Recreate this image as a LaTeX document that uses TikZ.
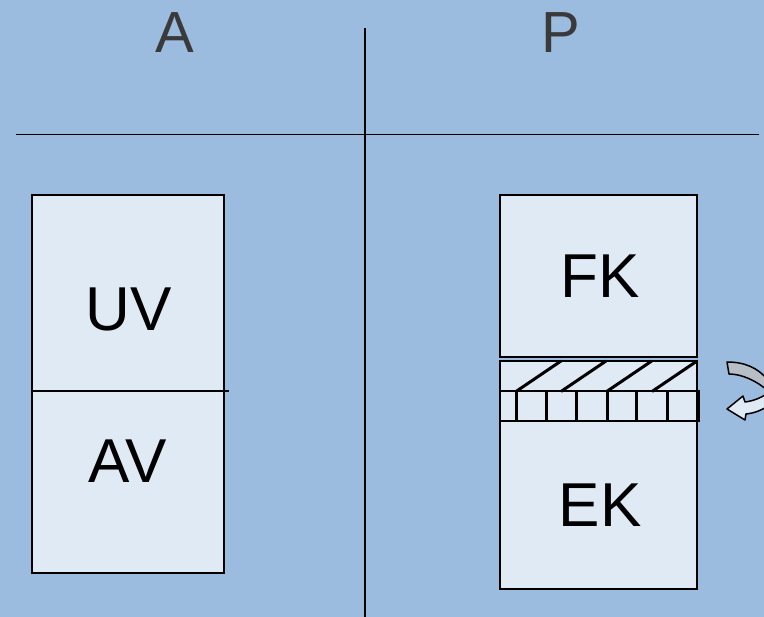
\documentclass[tikz,border=0pt]{standalone}
\usepackage{fontspec}
\setmainfont{Liberation Sans}
\definecolor{bg}{RGB}{155,187,223}
\definecolor{boxfill}{RGB}{224,234,245}
\definecolor{arrgray}{RGB}{184,190,198}
\definecolor{titlegray}{RGB}{58,58,58}
\tikzset{
  box/.style={draw=black,fill=boxfill,line width=2pt},
  rule/.style={draw=black,line width=1.8pt},
  tick/.style={draw=black,line width=3pt},
  lbl/.style={inner sep=0pt,font=\fontsize{62}{62}\selectfont,text=black},
  ttl/.style={inner sep=0pt,font=\fontsize{58}{58}\selectfont,text=titlegray},
}
\begin{document}
\begin{tikzpicture}[x=1pt,y=-1pt]
\useasboundingbox (0,0) rectangle (764,617);
\fill[bg] (0,0) rectangle (764,617);
% column titles
\node[ttl] (tA) at (175,32.5) {A};
\node[ttl] (tP) at (560.5,33) {P};
% rules
\coordinate (hl) at (16,134.5);
\coordinate (hr) at (759,134.5);
\coordinate (vt) at (365,28);
\coordinate (vb) at (365,617);
\draw[rule] (hl) -- (hr);
\draw[rule] (vt) -- (vb);
% left box
\draw[box] (32,195) rectangle (224,573);
\coordinate (dl) at (32,391);
\coordinate (dr) at (229,391);
\draw[rule] (dl) -- (dr);
\node[lbl] (uv) at (128.5,309) {UV};
\node[lbl] (av) at (127.5,461.5) {AV};
% right boxes
\draw[box] (500,195) rectangle (697,357);
\node[lbl] (fk) at (600,276.5) {FK};
\draw[box] (500,421.5) rectangle (697,589);
\node[lbl] (ek) at (600,505.5) {EK};
\draw[box] (500,361) rectangle (697,391.5);
\draw[box] (500,391.5) rectangle (699,421.5);
% hatch
\foreach \x in {516,546,576.7,607,636.7,667,697}{
  \draw[tick] (\x,391.5) -- (\x,421.5);
}
\foreach \x/\y in {516/561,561/606,606.7/651.7,652/697}{
  \draw[tick] (\x,391.5) -- (\y,361);
}
% curved arrow (clipped by frame)
\begin{scope}
\clip (0,0) rectangle (764,617);
\draw[fill=arrgray,line width=1.5pt,line join=round]
  (727,362) .. controls (745,362) and (758,368) .. (768,380)
  -- (768,391) .. controls (757,381) and (742,374) .. (729,374) -- cycle;
\draw[fill=boxfill,line width=1.5pt,line join=round]
  (768,393) .. controls (761,398) and (753,401) .. (745,402)
  -- (743,396) -- (727,409) -- (745,420) -- (746,414)
  .. controls (755,413) and (762,410) .. (768,406) -- cycle;
\end{scope}
\end{tikzpicture}
\end{document}
